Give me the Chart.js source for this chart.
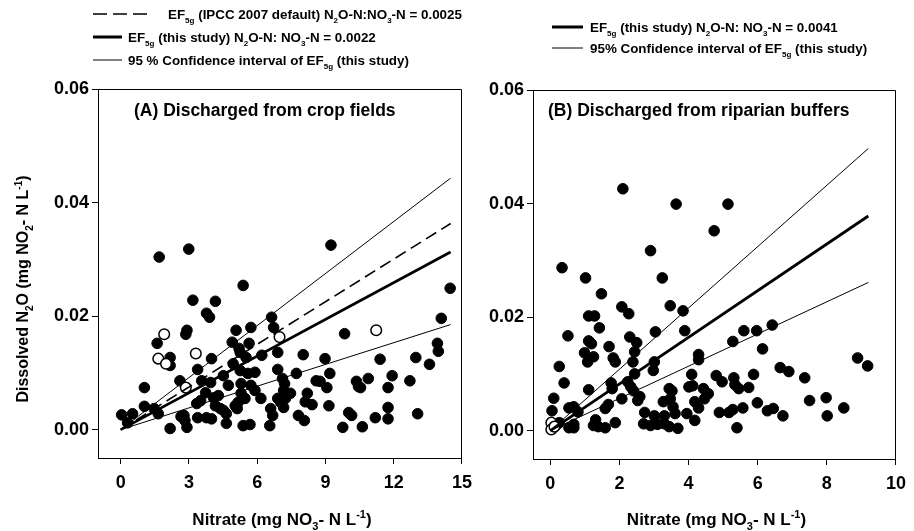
<!DOCTYPE html>
<html>
<head>
<meta charset="utf-8">
<script src="https://cdn.jsdelivr.net/npm/chart.js@4.4.1/dist/chart.umd.min.js"></script>
<style>
  html, body { margin: 0; padding: 0; background: #fff; }
  #wrap { position: relative; width: 914px; height: 531px; }
  canvas { position: absolute; top: 0; }
</style>
</head>
<body>
<div id="wrap">
  <canvas id="chartA" width="480" height="531" style="left:0"></canvas>
  <canvas id="chartB" width="434" height="531" style="left:480px"></canvas>
</div>
<script>
// (A) crop fields: [nitrate mg N/L, dissolved N2O mg N/L]
const cropFilled = [
  [1.69,0.0304],[2.99,0.0318],[5.38,0.0254],[3.17,0.0228],[4.16,0.0226],[3.77,0.0205],[3.90,0.0198],
  [2.91,0.0175],[2.86,0.0168],[1.60,0.0152],[2.17,0.0127],[2.17,0.0113],[3.99,0.0125],[3.38,0.0106],
  [2.60,0.0086],[1.04,0.0074],[1.04,0.0041],[1.47,0.0037],[0.52,0.0028],[0.04,0.0026],[0.30,0.0012],
  [1.65,0.0028],[2.17,0.0002],[2.91,0.0004],[2.78,0.0025],[2.82,0.0016],[3.38,0.0021],[5.07,0.0175],
  [5.72,0.0180],[6.63,0.0198],[6.72,0.0180],[4.90,0.0154],[5.64,0.0152],[5.20,0.0143],[5.25,0.0136],
  [6.90,0.0136],[6.20,0.0131],[5.51,0.0127],[4.94,0.0116],[5.25,0.0104],[5.59,0.0099],[5.90,0.0101],
  [4.51,0.0095],[6.90,0.0106],[3.56,0.0086],[3.95,0.0083],[4.73,0.0078],[5.29,0.0081],[5.72,0.0078],
  [5.90,0.0069],[3.73,0.0065],[4.08,0.0056],[4.29,0.0060],[5.29,0.0064],[5.46,0.0055],[5.16,0.0048],
  [3.51,0.0051],[3.34,0.0046],[6.16,0.0055],[6.90,0.0055],[7.03,0.0048],[4.16,0.0042],[4.38,0.0037],
  [4.51,0.0034],[4.64,0.0028],[5.03,0.0042],[5.12,0.0037],[6.59,0.0037],[6.68,0.0025],[3.77,0.0021],
  [3.99,0.0019],[4.64,0.0011],[5.38,0.0007],[5.68,0.0009],[6.55,0.0007],[2.65,0.0023],
  [9.24,0.0325],[14.48,0.0249],[14.09,0.0196],[13.92,0.0152],[13.96,0.0138],[13.57,0.0115],[12.97,0.0127],
  [12.71,0.0086],[13.05,0.0028],[11.40,0.0124],[11.93,0.0095],[11.75,0.0074],[11.75,0.0039],[11.75,0.0019],
  [11.19,0.0021],[10.62,0.0005],[9.76,0.0004],[9.84,0.0169],[8.98,0.0125],[8.02,0.0132],[9.19,0.0099],
  [8.59,0.0086],[8.76,0.0085],[9.06,0.0074],[10.36,0.0085],[10.45,0.0076],[10.54,0.0074],[10.88,0.0090],
  [7.72,0.0099],[7.11,0.0090],[7.20,0.0081],[7.16,0.0069],[7.46,0.0064],[7.24,0.0055],[7.16,0.0039],
  [8.20,0.0064],[8.11,0.0049],[8.41,0.0044],[9.15,0.0042],[10.02,0.0030],[10.15,0.0025],[7.81,0.0025],
  [8.07,0.0016]
];
const cropOpen = [[1.91,0.0168],[3.30,0.0134],[1.65,0.0125],[1.99,0.0116],[2.86,0.0074],[6.98,0.0163],[11.23,0.0175]];
const cropIpcc = [[0, 0], [14.5, 0.0363]];
const cropFit = [[0, 0], [14.5, 0.0313]];
const cropUpper = [[0, 0], [14.5, 0.0443]];
const cropLower = [[0, 0], [14.5, 0.0185]];

// (B) riparian buffers
const bufferFilled = [
  [2.10,0.0426],[3.64,0.0399],[5.14,0.0399],[4.74,0.0352],[2.90,0.0317],[0.34,0.0287],[1.02,0.0269],
  [3.24,0.0269],[1.48,0.0241],[2.07,0.0218],[2.27,0.0206],[1.11,0.0202],[1.28,0.0202],[3.47,0.0220],
  [3.84,0.0211],[1.42,0.0181],[0.51,0.0167],[3.04,0.0174],[3.89,0.0176],[2.30,0.0165],[2.50,0.0155],
  [1.11,0.0158],[1.19,0.0153],[1.70,0.0148],[0.99,0.0137],[1.25,0.0130],[1.08,0.0121],[1.82,0.0128],
  [1.88,0.0121],[2.44,0.0139],[2.39,0.0121],[3.01,0.0121],[2.98,0.0106],[4.29,0.0134],[4.29,0.0125],
  [5.28,0.0157],[0.26,0.0113],[0.40,0.0084],[1.11,0.0072],[1.76,0.0084],[1.79,0.0074],[2.44,0.0100],
  [2.24,0.0086],[2.33,0.0077],[2.41,0.0070],[2.59,0.0060],[2.53,0.0053],[4.09,0.0099],[4.80,0.0097],
  [4.97,0.0086],[5.31,0.0093],[3.44,0.0074],[3.52,0.0070],[4.01,0.0077],[4.12,0.0079],[4.43,0.0074],
  [4.57,0.0065],[4.46,0.0056],[3.27,0.0051],[3.47,0.0056],[3.55,0.0042],[3.61,0.0030],[4.18,0.0051],
  [4.29,0.0040],[5.28,0.0037],[5.17,0.0032],[4.89,0.0032],[3.95,0.0030],[4.18,0.0018],[2.73,0.0032],
  [3.01,0.0026],[3.30,0.0026],[2.70,0.0012],[2.90,0.0009],[3.10,0.0011],[3.30,0.0012],[3.44,0.0007],
  [3.69,0.0004],[2.07,0.0056],[1.68,0.0046],[1.59,0.0039],[1.88,0.0014],[1.31,0.0019],[1.25,0.0009],
  [1.39,0.0007],[1.59,0.0005],[0.68,0.0042],[0.54,0.0040],[0.80,0.0033],[0.68,0.0011],[0.68,0.0005],
  [0.26,0.0014],[8.89,0.0128],[9.18,0.0114],[6.42,0.0186],[5.97,0.0176],[5.60,0.0176],[6.14,0.0144],
  [6.65,0.0111],[6.90,0.0104],[7.36,0.0093],[5.88,0.0099],[5.34,0.0081],[5.45,0.0074],[5.74,0.0076],
  [7.50,0.0053],[7.98,0.0058],[8.49,0.0040],[8.01,0.0026],[5.99,0.0049],[6.28,0.0035],[6.45,0.0039],
  [6.73,0.0026],[5.57,0.0040],[5.40,0.0005],[0.10,0.0057],[0.05,0.0035],[0.20,0.0011],[0.54,0.0005]
];
const bufferOpen = [[0.03,0.0014],[0.03,0.0002],[0.12,0.0007]];
const bufferFit = [[0, 0], [9.2, 0.0378]];
const bufferUpper = [[0, 0], [9.2, 0.0497]];
const bufferLower = [[0, 0], [9.2, 0.0261]];

const cropTicksX = [0, 3, 6, 9, 12, 15];
const bufferTicksX = [0, 2, 4, 6, 8, 10];
const ticksY = [0, 0.02, 0.04, 0.06];

const FONT = "'Liberation Sans', Arial, sans-serif";
const toPts = arr => arr.map(p => ({ x: p[0], y: p[1] }));

// draws text made of normal / sub / sup pieces
function richText(ctx, x, y, parts, size, center) {
  const fontOf = p => "bold " + (p[1] ? Math.round(size * 0.62) : size) + "px " + FONT;
  let w = 0;
  parts.forEach(p => { ctx.font = fontOf(p); w += ctx.measureText(p[0]).width; });
  let cx = center ? x - w / 2 : x;
  ctx.textAlign = "left";
  ctx.textBaseline = "alphabetic";
  ctx.fillStyle = "#000";
  parts.forEach(p => {
    ctx.font = fontOf(p);
    const dy = p[1] === "sub" ? size * 0.3 : p[1] === "sup" ? -size * 0.4 : 0;
    ctx.fillText(p[0], cx, y + dy);
    cx += ctx.measureText(p[0]).width;
  });
}

const xTitle = [["Nitrate (mg NO"], ["3", "sub"], ["- N L"], ["-1", "sup"], [")"]];
const yTitle = [["Dissolved N"], ["2", "sub"], ["O (mg NO"], ["2", "sub"], ["- N L"], ["-1", "sup"], [")"]];

function lineSet(pts, width, dash) {
  return { data: toPts(pts), showLine: true, borderColor: "#000", borderWidth: width,
           borderDash: dash || [], pointRadius: 0, fill: false };
}
function dotSet(pts, open) {
  return { data: toPts(pts), showLine: false, pointRadius: 5.3,
           backgroundColor: open ? "#fff" : "#000", borderColor: "#000",
           borderWidth: open ? 1.5 : 1 };
}

function scales(xMin, xMax, xTicks, yWidth) {
  const grid = { drawOnChartArea: false, drawTicks: true, tickLength: 6, color: "#000", lineWidth: 1 };
  const border = { display: true, color: "#000", width: 1 };
  const ticks = { color: "#000", font: { family: FONT, size: 18, weight: "bold" }, autoSkip: false, maxRotation: 0 };
  return {
    x: { type: "linear", min: xMin, max: xMax, grid, border,
         ticks: Object.assign({ padding: 8 }, ticks),
         afterBuildTicks: s => { s.ticks = xTicks.map(v => ({ value: v })); },
         afterFit: s => { s.height = 44; } },
    y: { type: "linear", min: -0.005, max: 0.06, grid, border,
         ticks: Object.assign({ padding: 3, callback: v => v.toFixed(2) }, ticks),
         afterBuildTicks: s => { s.ticks = ticksY.map(v => ({ value: v })); },
         afterFit: s => { s.width = yWidth; } }
  };
}

// frame, panel title, axis titles and legend
function decor(opts) {
  return {
    id: "decor",
    afterDraw(chart) {
      const ctx = chart.ctx, a = chart.chartArea;
      ctx.save();
      ctx.strokeStyle = "#000";
      ctx.lineWidth = 1;
      ctx.beginPath();
      ctx.moveTo(Math.round(a.left) + 0.5, Math.round(a.top) + 0.5);
      ctx.lineTo(Math.round(a.right) - 0.5, Math.round(a.top) + 0.5);
      ctx.lineTo(Math.round(a.right) - 0.5, Math.round(a.bottom));
      ctx.stroke();

      richText(ctx, opts.titleX, 116, [[opts.title]], 17.5, false);
      richText(ctx, (a.left + a.right) / 2 + 2, 525, xTitle, 17, true);
      if (opts.yTitle) {
        ctx.save();
        ctx.translate(28, 289);
        ctx.rotate(-Math.PI / 2);
        richText(ctx, 0, 0, yTitle, 16, true);
        ctx.restore();
      }
      opts.legend.forEach(row => {
        ctx.beginPath();
        ctx.lineWidth = row.width;
        ctx.setLineDash(row.dash || []);
        ctx.moveTo(row.x0, row.y);
        ctx.lineTo(row.x1, row.y);
        ctx.stroke();
        ctx.setLineDash([]);
        richText(ctx, row.tx, row.y + 4.5, row.text, 13.4, false);
      });
      ctx.restore();
    }
  };
}

new Chart(document.getElementById("chartA"), {
  type: "scatter",
  data: { datasets: [
    lineSet(cropIpcc, 1.6, [12, 6]), lineSet(cropFit, 2.8), lineSet(cropUpper, 1), lineSet(cropLower, 1),
    dotSet(cropOpen, true), dotSet(cropFilled, false)
  ] },
  options: {
    responsive: false, animation: false,
    layout: { padding: { left: 38, top: 89, right: 13, bottom: 29 } },
    plugins: { legend: { display: false }, tooltip: { enabled: false } },
    scales: scales(-1, 15, cropTicksX, 60)
  },
  plugins: [decor({
    title: "(A) Discharged from crop fields", titleX: 134, yTitle: true,
    legend: [
      { x0: 93, x1: 147, y: 14, width: 1.6, dash: [14, 6], tx: 168,
        text: [["EF"], ["5g", "sub"], [" (IPCC 2007 default) N"], ["2", "sub"], ["O-N:NO"], ["3", "sub"], ["-N = 0.0025"]] },
      { x0: 93, x1: 122, y: 37, width: 3, tx: 128,
        text: [["EF"], ["5g", "sub"], [" (this study) N"], ["2", "sub"], ["O-N: NO"], ["3", "sub"], ["-N = 0.0022"]] },
      { x0: 93, x1: 122, y: 60, width: 1, tx: 128,
        text: [["95 % Confidence interval of EF"], ["5g", "sub"], [" (this study)"]] }
    ]
  })]
});

new Chart(document.getElementById("chartB"), {
  type: "scatter",
  data: { datasets: [
    lineSet(bufferFit, 2.8), lineSet(bufferUpper, 1), lineSet(bufferLower, 1),
    dotSet(bufferOpen, true), dotSet(bufferFilled, false)
  ] },
  options: {
    responsive: false, animation: false,
    layout: { padding: { left: 3, top: 90, right: 11, bottom: 28 } },
    plugins: { legend: { display: false }, tooltip: { enabled: false } },
    scales: scales(-0.5, 10, bufferTicksX, 50)
  },
  plugins: [decor({
    title: "(B) Discharged from riparian buffers", titleX: 68, yTitle: false,
    legend: [
      { x0: 72, x1: 103, y: 27, width: 3, tx: 110,
        text: [["EF"], ["5g", "sub"], [" (this study) N"], ["2", "sub"], ["O-N: NO"], ["3", "sub"], ["-N = 0.0041"]] },
      { x0: 72, x1: 103, y: 48, width: 1, tx: 110,
        text: [["95% Confidence interval of EF"], ["5g", "sub"], [" (this study)"]] }
    ]
  })]
});
</script>
</body>
</html>
